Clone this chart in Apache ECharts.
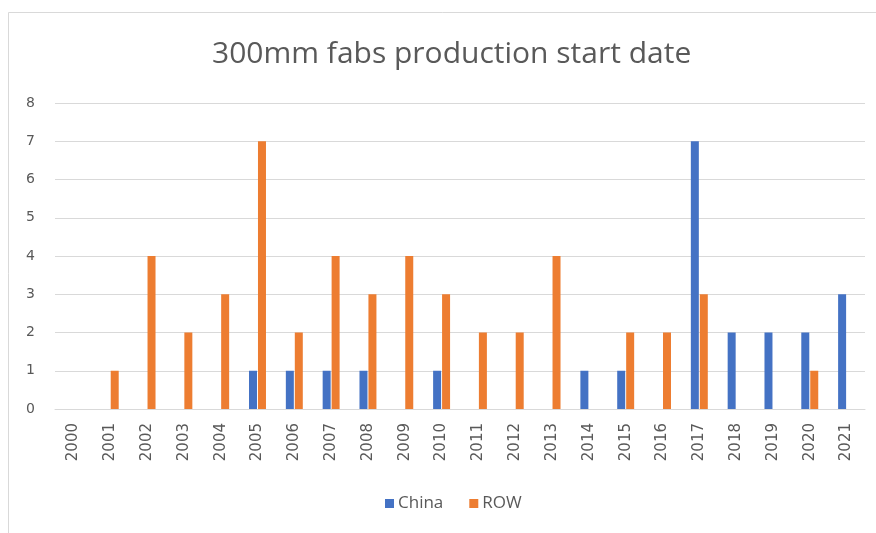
<!DOCTYPE html>
<html>
<head>
<meta charset="utf-8">
<script src="https://cdn.jsdelivr.net/npm/echarts@6/dist/echarts.min.js"></script>
<style>
html,body{margin:0;padding:0;background:#fff;}
#c{width:876px;height:533px;}
</style>
</head>
<body>
<div id="c"></div>
<script>
const categories = ['2000','2001','2002','2003','2004','2005','2006','2007','2008','2009','2010','2011','2012','2013','2014','2015','2016','2017','2018','2019','2020','2021'];
const china = [0,0,0,0,0,1,1,1,1,0,1,0,0,0,1,1,0,7,2,2,2,3];
const row   = [0,1,4,2,3,7,2,4,3,4,3,2,2,4,0,2,2,3,0,0,1,0];
const yTicks = {min:0, max:8, interval:1};

const chart = echarts.init(document.getElementById('c'), null, {renderer:'canvas'});
chart.setOption({
  animation:false,
  backgroundColor:'#fff',
  graphic:[{type:'rect', shape:{x:8.5,y:12.5,width:900,height:560}, style:{fill:'none', stroke:'#d9d9d9', lineWidth:1}, silent:true}],
  title:{text:'300mm fabs production start date', left:207, top:34,
    textStyle:{fontFamily:'Open Sans', fontWeight:'normal', fontSize:30, color:'#595959'}},
  legend:{bottom:16, left:380, itemWidth:9, itemHeight:9, itemGap:26, icon:'rect',
    textStyle:{fontFamily:'Open Sans', fontSize:17, color:'#595959', padding:[0,0,0,-1]},
    data:['China','ROW']},
  grid:{left:55, right:11, top:103, bottom:124, containLabel:false},
  xAxis:{type:'category', data:categories,
    axisLine:{lineStyle:{color:'#d9d9d9'}}, axisTick:{show:false},
    axisLabel:{rotate:90, color:'#595959', fontFamily:'DejaVu Sans', fontSize:15, margin:14, interval:0}},
  yAxis:{type:'value', min:yTicks.min, max:yTicks.max, interval:yTicks.interval,
    axisLine:{show:false}, axisTick:{show:false},
    splitLine:{lineStyle:{color:'#d9d9d9'}},
    axisLabel:{color:'#595959', fontFamily:'DejaVu Sans', fontSize:14, margin:20}},
  series:[
    {name:'China', type:'bar', data:china, barWidth:8, barGap:'12%', itemStyle:{color:'#4472C4'}},
    {name:'ROW', type:'bar', data:row, barWidth:8, itemStyle:{color:'#ED7D31'}}
  ]
});
</script>
</body>
</html>
